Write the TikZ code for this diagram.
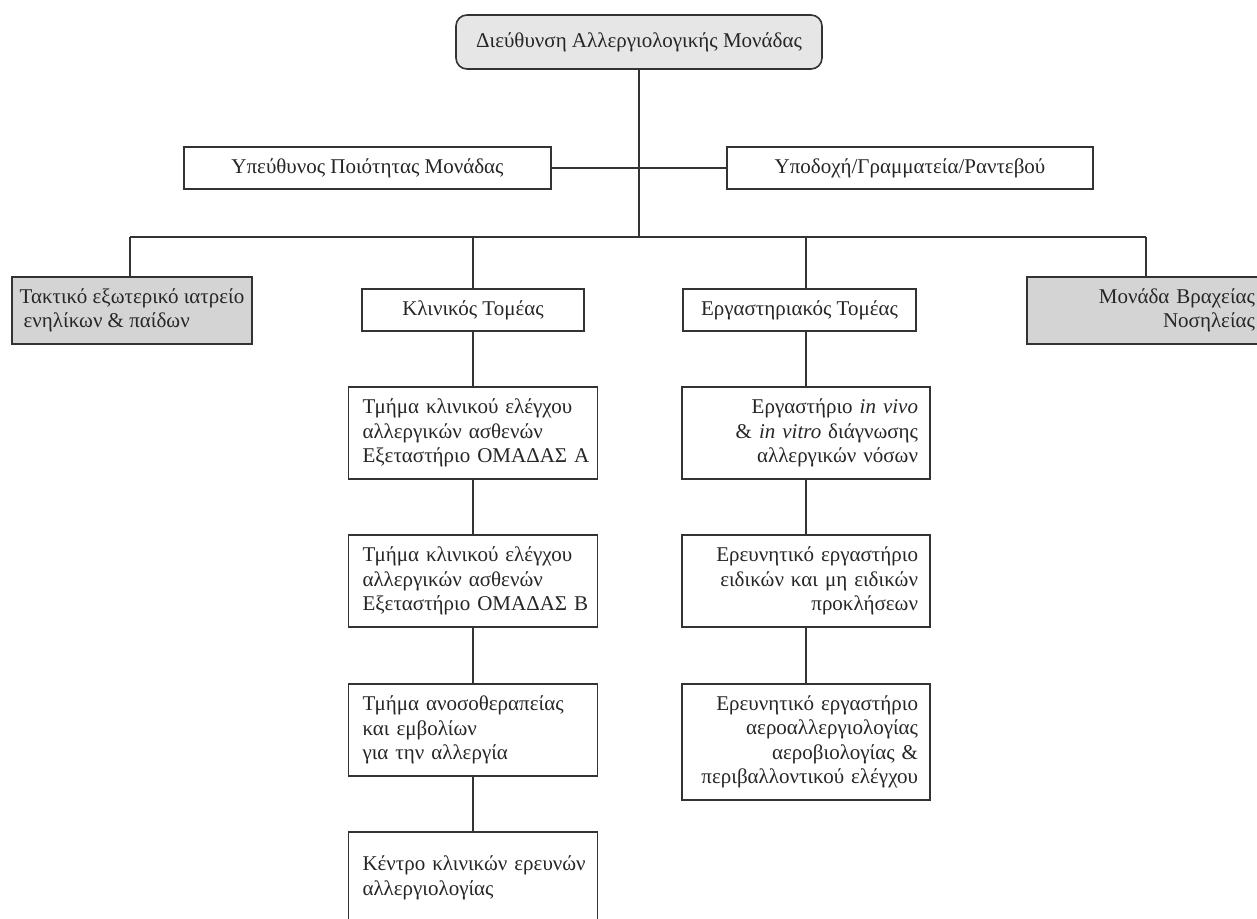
\documentclass[tikz,border=0pt]{standalone}
\usepackage{fontspec}
\setmainfont{Liberation Serif}
\definecolor{topfill}{HTML}{E6E6E6}
\definecolor{grayfill}{HTML}{D4D4D4}
\definecolor{linecol}{HTML}{333333}
\begin{document}
\begin{tikzpicture}[x=1pt,y=-1pt,
  every node/.style={font=\fontsize{21}{24.5}\selectfont, text=black!85},
  conn/.style={draw=linecol, line width=1.6pt},
  box/.style={draw=linecol, line width=1.6pt, rectangle, inner ysep=0pt},
  topbox/.style={box, fill=topfill, rounded corners=11pt, minimum width=366, minimum height=54, align=center},
  rowbox/.style={box, minimum width=367, minimum height=42, align=center},
  graybox/.style={box, fill=grayfill, minimum height=67},
  secbox/.style={box, minimum height=42, align=center},
  clinbox/.style={box, minimum height=92, inner xsep=14pt, text width=221pt, align=left},
  labbox/.style={box, minimum height=92, inner xsep=12pt, text width=224pt, align=right}]
\useasboundingbox (0,0) rectangle (1257,918);
\clip (0,0) rectangle (1257,918);
\fill[white] (0,0) rectangle (1257,918);

\node[topbox] (top) at (639,42) {Διεύθυνση Αλλεργιολογικής Μονάδας};
\node[rowbox] (qual) at (367.5,168) {Υπεύθυνος Ποιότητας Μονάδας};
\node[rowbox, minimum width=366] (recep) at (910,168) {Υποδοχή/Γραμματεία/Ραντεβού};

\coordinate (busL) at (130,237);
\coordinate (busR) at (1146,237);

\node[graybox, minimum width=240, inner xsep=7pt, align=left] (outp) at (132,310.5)
  {Τακτικό εξωτερικό ιατρείο\\\hspace{4pt}ενηλίκων \& παίδων};
\node[graybox, minimum width=238, inner xsep=10pt, text width=218pt, align=right] (short) at (1146,310.5)
  {Μονάδα Βραχείας\\Νοσηλείας};

\node[secbox, minimum width=222] (clin) at (473,310) {Κλινικός Τομέας};
\node[secbox, minimum width=233] (lab) at (799.5,310) {Εργαστηριακός Τομέας};

\node[clinbox] (c1) at (473,433) {\mbox{Τμήμα κλινικού ελέγχου}\\\mbox{αλλεργικών ασθενών}\\\mbox{Εξεταστήριο ΟΜΑΔΑΣ Α}};
\node[clinbox] (c2) at (473,581) {\mbox{Τμήμα κλινικού ελέγχου}\\\mbox{αλλεργικών ασθενών}\\\mbox{Εξεταστήριο ΟΜΑΔΑΣ Β}};
\node[clinbox] (c3) at (473,730) {\mbox{Τμήμα ανοσοθεραπείας}\\και εμβολίων\\για την αλλεργία};
\node[clinbox] (c4) at (473,878) {\mbox{Κέντρο κλινικών ερευνών}\\αλλεργιολογίας};

\node[labbox] (l1) at (806,433) {Εργαστήριο \textit{in vivo}\\\& \textit{in vitro} διάγνωσης\\αλλεργικών νόσων};
\node[labbox] (l2) at (806,581) {Ερευνητικό εργαστήριο\\ειδικών και μη ειδικών\\προκλήσεων};
\node[labbox, minimum height=116] (l3) at (806,742) {Ερευνητικό εργαστήριο\\αεροαλλεργιολογίας\\αεροβιολογίας \&\\περιβαλλοντικού ελέγχου};

\draw[conn] (top.south) -- (top.south |- busL);
\draw[conn] (qual.east) -- (recep.west);
\draw[conn] (busL) -- (busR);
\draw[conn] (busL) -- (busL |- outp.north);
\draw[conn] (busR) -- (busR |- short.north);
\draw[conn] (clin.north) -- (clin.north |- busL);
\draw[conn] (l1.north |- lab.north) -- (l1.north |- busL);
\draw[conn] (clin.south) -- (c1.north);
\draw[conn] (c1.south) -- (c2.north);
\draw[conn] (c2.south) -- (c3.north);
\draw[conn] (c3.south) -- (c4.north);
\draw[conn] (l1.north |- lab.south) -- (l1.north);
\draw[conn] (l1.south) -- (l2.north);
\draw[conn] (l2.south) -- (l3.north);
\end{tikzpicture}
\end{document}
